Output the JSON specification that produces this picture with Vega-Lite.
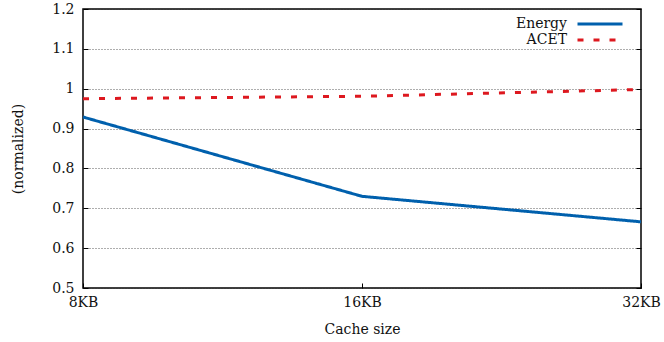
{
  "$schema": "https://vega.github.io/schema/vega-lite/v6.json",
  "width": 558,
  "height": 279,
  "autosize": "none",
  "padding": {"left": 83, "top": 9, "right": 23, "bottom": 54},
  "background": "white",
  "config": {
    "font": "DejaVu Serif",
    "view": {"stroke": "black", "strokeWidth": 1.5},
    "axis": {
      "labelFont": "DejaVu Serif",
      "titleFont": "DejaVu Serif",
      "labelFontSize": 14,
      "titleFontSize": 14,
      "labelColor": "#111",
      "titleColor": "#111",
      "titleFontWeight": "normal",
      "domain": false,
      "tickColor": "black",
      "tickWidth": 1,
      "gridColor": "#333",
      "gridDash": [1, 2],
      "gridWidth": 0.8
    },
    "legend": {
      "labelFont": "DejaVu Serif",
      "labelFontSize": 14,
      "labelColor": "#111"
    }
  },
  "data": {
    "values": [
      {"size": "8KB", "metric": "Energy", "value": 0.929},
      {"size": "16KB", "metric": "Energy", "value": 0.73},
      {"size": "32KB", "metric": "Energy", "value": 0.666},
      {"size": "8KB", "metric": "ACET", "value": 0.975},
      {"size": "16KB", "metric": "ACET", "value": 0.981},
      {"size": "32KB", "metric": "ACET", "value": 0.998}
    ]
  },
  "layer": [
    {
      "mark": {"type": "line", "strokeWidth": 3, "strokeCap": "butt"},
      "encoding": {
        "x": {
          "field": "size",
          "type": "ordinal",
          "sort": ["8KB", "16KB", "32KB"],
          "scale": {"type": "point", "padding": 0},
          "axis": {
            "title": "Cache size",
            "labelAngle": 0,
            "tickSize": -5,
            "labelPadding": 12,
            "titleBaseline": "alphabetic",
            "titleY": 45
          }
        },
        "y": {
          "field": "value",
          "type": "quantitative",
          "scale": {"domain": [0.5, 1.2], "nice": false, "zero": false},
          "axis": {
            "title": "(normalized)",
            "values": [0.5, 0.6, 0.7, 0.8, 0.9, 1, 1.1, 1.2],
            "format": "~g",
            "tickSize": -5,
            "labelPadding": 14,
            "titleBaseline": "alphabetic",
            "titleX": -61
          }
        },
        "color": {
          "field": "metric",
          "type": "nominal",
          "sort": ["Energy", "ACET"],
          "scale": {"domain": ["Energy", "ACET"], "range": ["#0060ad", "#dd181f"]},
          "legend": {
            "title": null,
            "orient": "none",
            "legendX": 508,
            "legendY": 6,
            "symbolType": "M-3,0H3",
            "symbolSize": 225,
            "symbolStrokeWidth": 3,
            "labelAlign": "right",
            "labelOffset": -42,
            "rowPadding": 0,
            "padding": 0
          }
        },
        "strokeDash": {
          "field": "metric",
          "type": "nominal",
          "sort": ["Energy", "ACET"],
          "scale": {"domain": ["Energy", "ACET"], "range": [[1, 0], [6, 10]]},
          "legend": {
            "title": null,
            "orient": "none",
            "legendX": 508,
            "legendY": 6,
            "symbolType": "M-3,0H3",
            "symbolSize": 225,
            "symbolStrokeWidth": 3,
            "labelAlign": "right",
            "labelOffset": -42,
            "rowPadding": 0,
            "padding": 0
          }
        }
      }
    },
    {
      "mark": {"type": "point", "opacity": 0},
      "encoding": {
        "x": {
          "field": "size",
          "type": "ordinal",
          "sort": ["8KB", "16KB", "32KB"],
          "scale": {"type": "point", "padding": 0}
        },
        "y": {
          "field": "value",
          "type": "quantitative",
          "axis": {
            "orient": "right",
            "labels": false,
            "grid": false,
            "title": null,
            "tickSize": -5,
            "values": [0.5, 0.6, 0.7, 0.8, 0.9, 1, 1.1, 1.2]
          }
        }
      }
    }
  ],
  "resolve": {"axis": {"y": "independent"}}
}
